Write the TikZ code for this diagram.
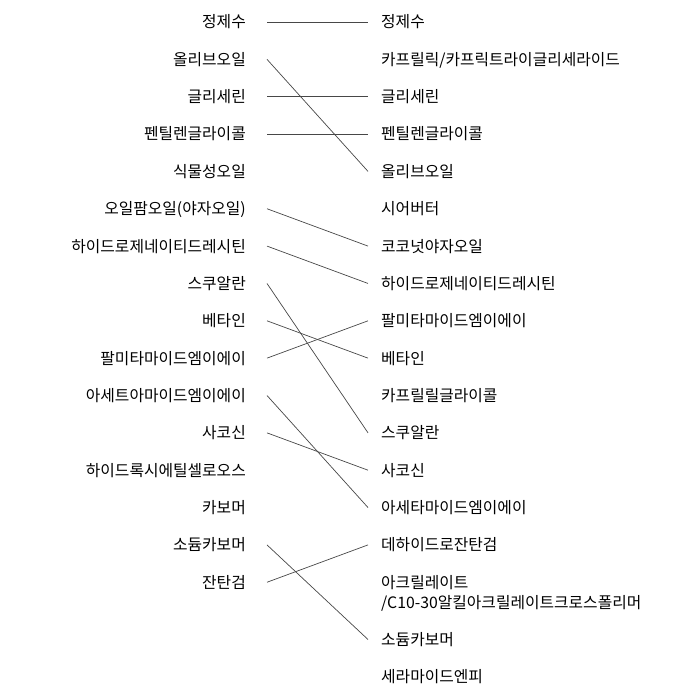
\documentclass[tikz,border=0pt]{standalone}
\usepackage{fontspec}
\setmainfont{Noto Sans CJK KR}
\begin{document}
\begin{tikzpicture}[x=1pt,y=-1pt]
\tikzset{
  lab/.style={font=\fontsize{15.8}{20}\selectfont, text=black, text height=11.8pt, text depth=0pt, inner ysep=0pt},
  lft/.style={lab, anchor=east, inner xsep=21pt},
  rgt/.style={lab, anchor=west, inner xsep=13pt},
  link/.style={draw=black!72, line width=0.7pt}
}
\useasboundingbox (0,0) rectangle (700,700);
\def\rs{37.35}
% left column
\node[lft] (l0) at (267,{22+0*\rs}) {정제수};
\node[lft] (l1) at (267,{22+1*\rs}) {올리브오일};
\node[lft] (l2) at (267,{22+2*\rs}) {글리세린};
\node[lft] (l3) at (267,{22+3*\rs}) {펜틸렌글라이콜};
\node[lft] (l4) at (267,{22+4*\rs}) {식물성오일};
\node[lft] (l5) at (267,{22+5*\rs}) {오일팜오일(야자오일)};
\node[lft] (l6) at (267,{22+6*\rs}) {하이드로제네이티드레시틴};
\node[lft] (l7) at (267,{22+7*\rs}) {스쿠알란};
\node[lft] (l8) at (267,{22+8*\rs}) {베타인};
\node[lft] (l9) at (267,{22+9*\rs}) {팔미타마이드엠이에이};
\node[lft] (l10) at (267,{22+10*\rs}) {아세트아마이드엠이에이};
\node[lft] (l11) at (267,{22+11*\rs}) {사코신};
\node[lft] (l12) at (267,{22+12*\rs}) {하이드록시에틸셀로오스};
\node[lft] (l13) at (267,{22+13*\rs}) {카보머};
\node[lft] (l14) at (267,{22+14*\rs}) {소듐카보머};
\node[lft] (l15) at (267,{22+15*\rs}) {잔탄검};
% right column
\node[rgt] (r0) at (368,{22+0*\rs}) {정제수};
\node[rgt] (r1) at (368,{22+1*\rs}) {카프릴릭/카프릭트라이글리세라이드};
\node[rgt] (r2) at (368,{22+2*\rs}) {글리세린};
\node[rgt] (r3) at (368,{22+3*\rs}) {펜틸렌글라이콜};
\node[rgt] (r4) at (368,{22+4*\rs}) {올리브오일};
\node[rgt] (r5) at (368,{22+5*\rs}) {시어버터};
\node[rgt] (r6) at (368,{22+6*\rs}) {코코넛야자오일};
\node[rgt] (r7) at (368,{22+7*\rs}) {하이드로제네이티드레시틴};
\node[rgt] (r8) at (368,{22+8*\rs}) {팔미타마이드엠이에이};
\node[rgt] (r9) at (368,{22+9*\rs}) {베타인};
\node[rgt] (r10) at (368,{22+10*\rs}) {카프릴릴글라이콜};
\node[rgt] (r11) at (368,{22+11*\rs}) {스쿠알란};
\node[rgt] (r12) at (368,{22+12*\rs}) {사코신};
\node[rgt] (r13) at (368,{22+13*\rs}) {아세타마이드엠이에이};
\node[rgt] (r14) at (368,{22+14*\rs}) {데하이드로잔탄검};
\node[font=\fontsize{15.8}{20}\selectfont, text=black, align=left, anchor=base west, inner xsep=13pt, inner ysep=0pt] (r15) at (368,608.4) {아크릴레이트\\/C10-30알킬아크릴레이트크로스폴리머};
\node[rgt] (r16) at (368,639.5) {소듐카보머};
\node[rgt] (r17) at (368,676.8) {세라마이드엔피};
% connectors
\draw[link] (l0.east) -- (r0.west);
\draw[link] (l1.east) -- (r4.west);
\draw[link] (l2.east) -- (r2.west);
\draw[link] (l3.east) -- (r3.west);
\draw[link] (l5.east) -- (r6.west);
\draw[link] (l6.east) -- (r7.west);
\draw[link] (l7.east) -- (r11.west);
\draw[link] (l8.east) -- (r9.west);
\draw[link] (l9.east) -- (r8.west);
\draw[link] (l10.east) -- (r13.west);
\draw[link] (l11.east) -- (r12.west);
\draw[link] (l14.east) -- (r16.west);
\draw[link] (l15.east) -- (r14.west);
\end{tikzpicture}
\end{document}
